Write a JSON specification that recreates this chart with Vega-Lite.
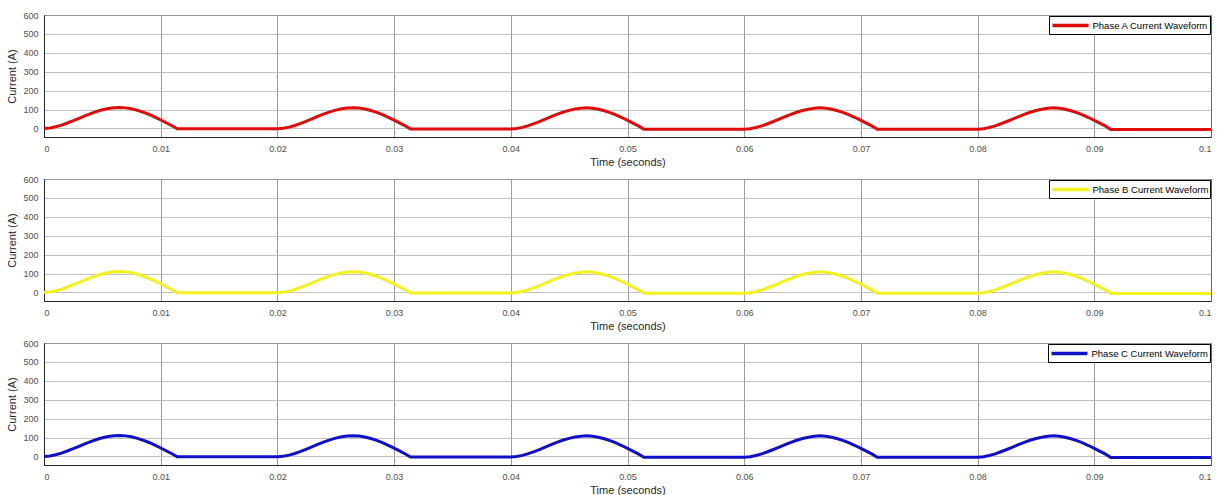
{
  "$schema": "https://vega.github.io/schema/vega-lite/v6.json",
  "background": "white",
  "padding": {"left": 6, "top": 10, "right": 6, "bottom": 0},
  "spacing": 42,
  "bounds": "flush",
  "datasets": {
    "wave": [
      {"t": 0, "i": 0}, {"t": 0.0005, "i": 3}, {"t": 0.001, "i": 9}, {"t": 0.0015, "i": 18}, {"t": 0.002, "i": 29}, {"t": 0.0025, "i": 41}, {"t": 0.003, "i": 54}, {"t": 0.0035, "i": 67}, {"t": 0.004, "i": 79}, {"t": 0.0045, "i": 90}, {"t": 0.005, "i": 99}, {"t": 0.0055, "i": 106}, {"t": 0.006, "i": 110}, {"t": 0.0065, "i": 111}, {"t": 0.007, "i": 109}, {"t": 0.0075, "i": 104}, {"t": 0.008, "i": 96}, {"t": 0.0085, "i": 86}, {"t": 0.009, "i": 74}, {"t": 0.0095, "i": 60}, {"t": 0.01, "i": 45}, {"t": 0.0105, "i": 29}, {"t": 0.011, "i": 13}, {"t": 0.0114, "i": -1}, {"t": 0.02, "i": -2},
      {"t": 0.0205, "i": 1}, {"t": 0.021, "i": 7}, {"t": 0.0215, "i": 16}, {"t": 0.022, "i": 27}, {"t": 0.0225, "i": 39}, {"t": 0.023, "i": 52}, {"t": 0.0235, "i": 65}, {"t": 0.024, "i": 77}, {"t": 0.0245, "i": 88}, {"t": 0.025, "i": 97}, {"t": 0.0255, "i": 104}, {"t": 0.026, "i": 108}, {"t": 0.0265, "i": 110}, {"t": 0.027, "i": 108}, {"t": 0.0275, "i": 103}, {"t": 0.028, "i": 95}, {"t": 0.0285, "i": 85}, {"t": 0.029, "i": 73}, {"t": 0.0295, "i": 59}, {"t": 0.03, "i": 44}, {"t": 0.0305, "i": 28}, {"t": 0.031, "i": 12}, {"t": 0.0314, "i": -3}, {"t": 0.04, "i": -3},
      {"t": 0.0405, "i": 0}, {"t": 0.041, "i": 6}, {"t": 0.0415, "i": 15}, {"t": 0.042, "i": 26}, {"t": 0.0425, "i": 38}, {"t": 0.043, "i": 51}, {"t": 0.0435, "i": 64}, {"t": 0.044, "i": 76}, {"t": 0.0445, "i": 87}, {"t": 0.045, "i": 96}, {"t": 0.0455, "i": 103}, {"t": 0.046, "i": 107}, {"t": 0.0465, "i": 109}, {"t": 0.047, "i": 107}, {"t": 0.0475, "i": 102}, {"t": 0.048, "i": 94}, {"t": 0.0485, "i": 84}, {"t": 0.049, "i": 72}, {"t": 0.0495, "i": 58}, {"t": 0.05, "i": 43}, {"t": 0.0505, "i": 27}, {"t": 0.051, "i": 11}, {"t": 0.0514, "i": -4}, {"t": 0.06, "i": -4},
      {"t": 0.0605, "i": -1}, {"t": 0.061, "i": 5}, {"t": 0.0615, "i": 14}, {"t": 0.062, "i": 25}, {"t": 0.0625, "i": 37}, {"t": 0.063, "i": 50}, {"t": 0.0635, "i": 63}, {"t": 0.064, "i": 75}, {"t": 0.0645, "i": 86}, {"t": 0.065, "i": 95}, {"t": 0.0655, "i": 102}, {"t": 0.066, "i": 107}, {"t": 0.0665, "i": 109}, {"t": 0.067, "i": 107}, {"t": 0.0675, "i": 102}, {"t": 0.068, "i": 94}, {"t": 0.0685, "i": 84}, {"t": 0.069, "i": 72}, {"t": 0.0695, "i": 58}, {"t": 0.07, "i": 43}, {"t": 0.0705, "i": 27}, {"t": 0.071, "i": 11}, {"t": 0.0714, "i": -4}, {"t": 0.08, "i": -4},
      {"t": 0.0805, "i": -1}, {"t": 0.081, "i": 5}, {"t": 0.0815, "i": 14}, {"t": 0.082, "i": 25}, {"t": 0.0825, "i": 37}, {"t": 0.083, "i": 50}, {"t": 0.0835, "i": 63}, {"t": 0.084, "i": 75}, {"t": 0.0845, "i": 86}, {"t": 0.085, "i": 95}, {"t": 0.0855, "i": 102}, {"t": 0.086, "i": 107}, {"t": 0.0865, "i": 109}, {"t": 0.087, "i": 107}, {"t": 0.0875, "i": 102}, {"t": 0.088, "i": 94}, {"t": 0.0885, "i": 84}, {"t": 0.089, "i": 72}, {"t": 0.0895, "i": 58}, {"t": 0.09, "i": 43}, {"t": 0.0905, "i": 27}, {"t": 0.091, "i": 11}, {"t": 0.0914, "i": -5}, {"t": 0.1, "i": -6}
    ]
  },
  "config": {
    "view": {"stroke": "#262626", "strokeWidth": 1},
    "axis": {
      "labelFont": "Liberation Sans", "labelFontSize": 9, "labelColor": "#4d4d4d",
      "titleFont": "Liberation Sans", "titleFontSize": 11, "titleFontWeight": "normal", "titleColor": "#262626",
      "domainColor": "#262626", "ticks": false, "labelPadding": 6
    },
    "axisX": {"gridColor": "#7a7a7a", "gridOpacity": 0.75, "titlePadding": 3, "labelPadding": 7},
    "axisY": {"gridColor": "#b0b0b0", "gridOpacity": 0.8, "titlePadding": 5},
    "legend": {
      "orient": "top-right", "offset": 1, "padding": 1.5, "title": null,
      "strokeColor": "#000000", "fillColor": "white", "cornerRadius": 0,
      "symbolType": "M-1,0H5", "symbolSize": 144, "symbolStrokeWidth": 3.5,
      "labelOffset": 26, "labelFont": "Liberation Sans", "labelFontSize": 9.5, "labelColor": "#000000"
    }
  },
  "resolve": {"scale": {"color": "independent"}, "legend": {"color": "independent"}},
  "vconcat": [
    {
      "width": 1167, "height": 122,
      "data": {"name": "wave"},
      "mark": {"type": "line", "strokeWidth": 3, "clip": true},
      "encoding": {
        "x": {"field": "t", "type": "quantitative", "scale": {"domain": [0, 0.1], "nice": false}, "axis": {"values": [0, 0.01, 0.02, 0.03, 0.04, 0.05, 0.06, 0.07, 0.08, 0.09, 0.1], "format": ".2~f", "title": "Time (seconds)"}},
        "y": {"field": "i", "type": "quantitative", "scale": {"domain": [-45, 600], "nice": false, "zero": false}, "axis": {"values": [0, 100, 200, 300, 400, 500, 600], "title": "Current (A)"}},
        "color": {"datum": "Phase A Current Waveform", "type": "nominal", "scale": {"range": ["#e00b0b"]}}
      }
    },
    {
      "width": 1167, "height": 122,
      "data": {"name": "wave"},
      "mark": {"type": "line", "strokeWidth": 3, "clip": true},
      "encoding": {
        "x": {"field": "t", "type": "quantitative", "scale": {"domain": [0, 0.1], "nice": false}, "axis": {"values": [0, 0.01, 0.02, 0.03, 0.04, 0.05, 0.06, 0.07, 0.08, 0.09, 0.1], "format": ".2~f", "title": "Time (seconds)"}},
        "y": {"field": "i", "type": "quantitative", "scale": {"domain": [-45, 600], "nice": false, "zero": false}, "axis": {"values": [0, 100, 200, 300, 400, 500, 600], "title": "Current (A)"}},
        "color": {"datum": "Phase B Current Waveform", "type": "nominal", "scale": {"range": ["#f2f21f"]}}
      }
    },
    {
      "width": 1167, "height": 122,
      "data": {"name": "wave"},
      "mark": {"type": "line", "strokeWidth": 3, "clip": true},
      "encoding": {
        "x": {"field": "t", "type": "quantitative", "scale": {"domain": [0, 0.1], "nice": false}, "axis": {"values": [0, 0.01, 0.02, 0.03, 0.04, 0.05, 0.06, 0.07, 0.08, 0.09, 0.1], "format": ".2~f", "title": "Time (seconds)"}},
        "y": {"field": "i", "type": "quantitative", "scale": {"domain": [-45, 600], "nice": false, "zero": false}, "axis": {"values": [0, 100, 200, 300, 400, 500, 600], "title": "Current (A)"}},
        "color": {"datum": "Phase C Current Waveform", "type": "nominal", "scale": {"range": ["#1010c8"]}}
      }
    }
  ]
}
